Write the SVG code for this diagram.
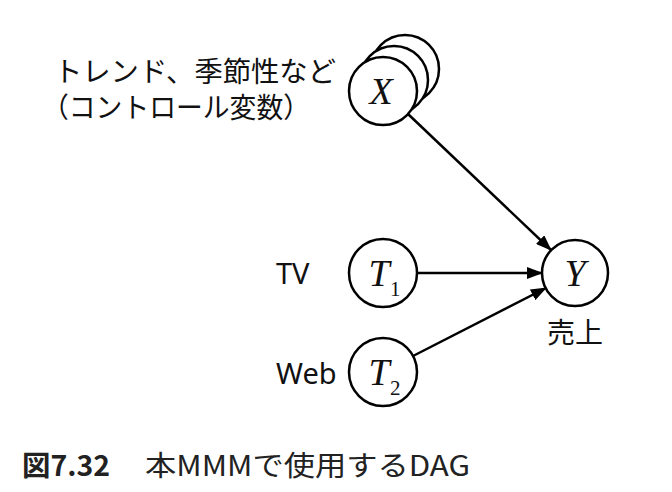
<svg xmlns="http://www.w3.org/2000/svg" width="672" height="492" viewBox="0 0 672 492">
<style>
.node{fill:#fff;stroke:#000;stroke-width:2.5}
.math{font-family:"Liberation Serif",serif;font-style:italic;font-size:38px;fill:#111}
.sub{font-family:"Liberation Serif",serif;font-size:21px;fill:#111}
.lab{font-family:"Noto Sans CJK JP","Noto Sans",sans-serif;font-size:28px;fill:#111}
.lat{font-family:"Noto Sans","Noto Sans CJK JP",sans-serif;font-size:29px;fill:#111}
.edge{stroke:#000;stroke-width:2.5;fill:none;marker-end:url(#ah)}
.cap{font-family:"Noto Sans CJK JP","Noto Sans",sans-serif;font-size:28px;fill:#222}
</style>
<defs>
<marker id="ah" markerWidth="16" markerHeight="12" refX="15" refY="6" orient="auto" markerUnits="userSpaceOnUse">
<path d="M0,0 L16,6 L0,12 Z" fill="#000"/>
</marker>
</defs>
<rect width="672" height="492" fill="#fff"/>
<g id="edges">
<line class="edge" x1="408" y1="114" x2="551" y2="250"/>
<line class="edge" x1="417" y1="273" x2="542" y2="273"/>
<line class="edge" x1="413" y1="356" x2="546" y2="288"/>
</g>
<g id="nodeX">
<circle class="node" cx="405" cy="69" r="34"/>
<circle class="node" cx="394" cy="80" r="34"/>
<circle class="node" cx="383" cy="91" r="34"/>
<text class="math" x="381" y="104" text-anchor="middle">X</text>
<text class="lab" x="54" y="82" font-size="26" textLength="282" lengthAdjust="spacingAndGlyphs">トレンド、季節性など</text>
<text class="lab" x="42" y="118" font-size="26" textLength="268" lengthAdjust="spacingAndGlyphs">（コントロール変数）</text>
</g>
<g id="nodeT1">
<circle class="node" cx="383" cy="273" r="34"/>
<text class="math" x="379" y="286" text-anchor="middle">T</text>
<text class="sub" x="390" y="296">1</text>
<text class="lat" x="276" y="284">TV</text>
</g>
<g id="nodeT2">
<circle class="node" cx="383" cy="372" r="34"/>
<text class="math" x="379" y="385" text-anchor="middle">T</text>
<text class="sub" x="390" y="395">2</text>
<text class="lat" x="276" y="384">Web</text>
</g>
<g id="nodeY">
<circle class="node" cx="575" cy="273" r="33"/>
<text class="math" x="575" y="286" text-anchor="middle">Y</text>
<text class="lab" x="575" y="343" text-anchor="middle">売上</text>
</g>
<g id="caption">
<text class="cap" x="22" y="476" font-weight="bold" textLength="88" lengthAdjust="spacingAndGlyphs">図7.32</text>
<text class="cap" x="145" y="476" textLength="325" lengthAdjust="spacingAndGlyphs">本MMMで使用するDAG</text>
</g>
</svg>
